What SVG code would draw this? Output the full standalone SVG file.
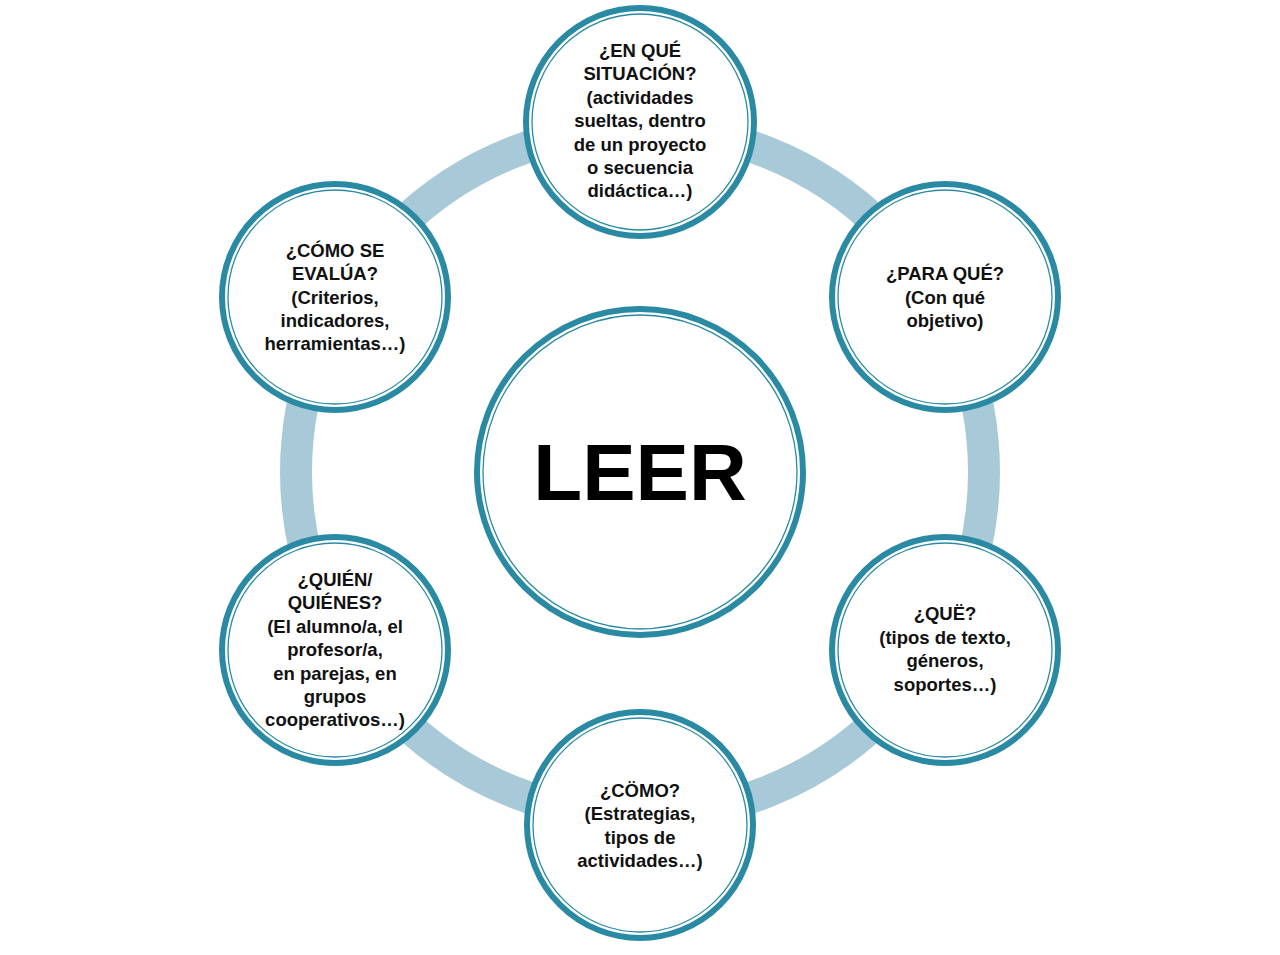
<svg xmlns="http://www.w3.org/2000/svg" width="1280" height="955" viewBox="0 0 1280 955">
<style>
.o{fill:#fff;stroke:#2a8aa4;stroke-width:6}
.i{fill:none;stroke:#2a8aa4;stroke-width:1.3}
.t{font-family:"Liberation Sans",Arial,sans-serif;font-weight:bold;font-size:18.5px;fill:#111;text-anchor:middle}
</style>
<rect width="1280" height="955" fill="#fff"/>
<g id="connectors"><circle cx="640" cy="472" r="344" fill="none" stroke="#a8c9d7" stroke-width="32"/></g>
<g id="leer"><circle class="o" cx="640" cy="472" r="163"/><circle class="i" cx="640" cy="472" r="157"/>
<text x="640" y="500" style="font-family:'Liberation Sans',Arial,sans-serif;font-weight:bold;font-size:80px;text-anchor:middle;fill:#000">LEER</text></g>
<g id="n1"><circle class="o" cx="640" cy="122" r="114"/><circle class="i" cx="640" cy="122" r="108"/>
<text class="t"><tspan x="640" y="57">¿EN QUÉ</tspan><tspan x="640" y="80">SITUACIÓN?</tspan><tspan x="640" y="104">(actividades</tspan><tspan x="640" y="127">sueltas, dentro</tspan><tspan x="640" y="151">de un proyecto</tspan><tspan x="640" y="174">o secuencia</tspan><tspan x="640" y="197">didáctica…)</tspan></text></g>
<g id="n2"><circle class="o" cx="945" cy="297" r="113"/><circle class="i" cx="945" cy="297" r="107"/>
<text class="t"><tspan x="945" y="280">¿PARA QUÉ?</tspan><tspan x="945" y="304">(Con qué</tspan><tspan x="945" y="327">objetivo)</tspan></text></g>
<g id="n3"><circle class="o" cx="945" cy="650" r="113"/><circle class="i" cx="945" cy="650" r="107"/>
<text class="t"><tspan x="945" y="620">¿QUË?</tspan><tspan x="945" y="644">(tipos de texto,</tspan><tspan x="945" y="667">géneros,</tspan><tspan x="945" y="691">soportes…)</tspan></text></g>
<g id="n4"><circle class="o" cx="640" cy="825" r="113"/><circle class="i" cx="640" cy="825" r="107"/>
<text class="t"><tspan x="640" y="797">¿CÖMO?</tspan><tspan x="640" y="820">(Estrategias,</tspan><tspan x="640" y="844">tipos de</tspan><tspan x="640" y="867">actividades…)</tspan></text></g>
<g id="n5"><circle class="o" cx="335" cy="650" r="113"/><circle class="i" cx="335" cy="650" r="107"/>
<text class="t"><tspan x="335" y="586">¿QUIÉN/</tspan><tspan x="335" y="609">QUIÉNES?</tspan><tspan x="335" y="633">(El alumno/a, el</tspan><tspan x="335" y="656">profesor/a,</tspan><tspan x="335" y="680">en parejas, en</tspan><tspan x="335" y="703">grupos</tspan><tspan x="335" y="726">cooperativos…)</tspan></text></g>
<g id="n6"><circle class="o" cx="335" cy="297" r="113"/><circle class="i" cx="335" cy="297" r="107"/>
<text class="t"><tspan x="335" y="257">¿CÓMO SE</tspan><tspan x="335" y="280">EVALÚA?</tspan><tspan x="335" y="304">(Criterios,</tspan><tspan x="335" y="327">indicadores,</tspan><tspan x="335" y="350">herramientas…)</tspan></text></g>
</svg>
